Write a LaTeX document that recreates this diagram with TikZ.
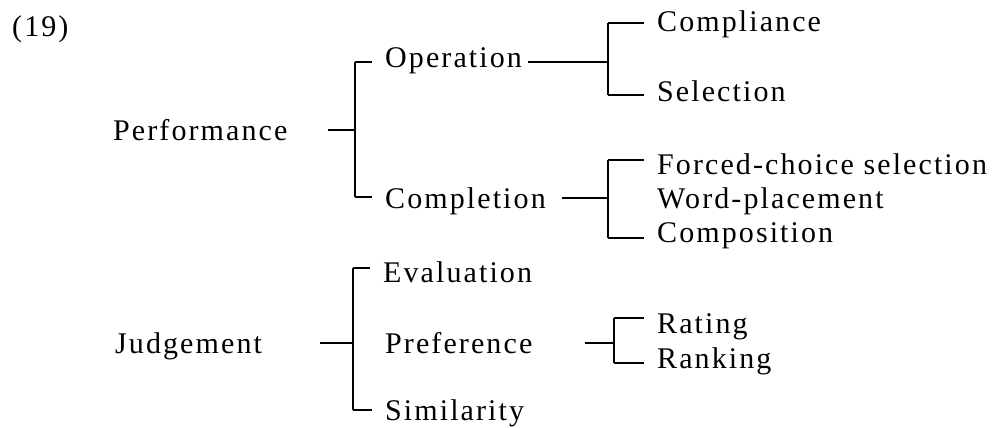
\documentclass[tikz,border=0pt]{standalone}
\usepackage{fontspec}
\setmainfont{Liberation Serif}[LetterSpace=7]
\begin{document}
\begin{tikzpicture}[x=1pt,y=-1pt,
  lbl/.style={anchor=base west, inner sep=0pt, font=\fontsize{30}{36}\selectfont},
  spine/.style={line width=1.8pt},
  stem/.style={line width=1.3pt},
  tick/.style={line width=1.1pt, shorten >=13pt}]
\useasboundingbox (0,0) rectangle (997,428);

% label of the example
\node[lbl] (num) at (12,37) {(19)};

% first level
\node[lbl] (perf) at (113,140) {Performance};
\node[lbl] (judg) at (115,353) {Judgement};

% second level
\node[lbl] (oper) at (385,68) {Operation};
\node[lbl] (comp) at (385,208) {Completion};
\node[lbl] (eval) at (383,282) {Evaluation};
\node[lbl] (pref) at (385,353) {Preference};
\node[lbl] (simi) at (385,420) {Similarity};

% third level
\node[lbl] (cpl) at (657,32) {Compliance};
\node[lbl] (sel) at (657,102) {Selection};
\node[lbl] (fcs) at (657,175) {Forced-choice selection};
\node[lbl] (wpl) at (657,208) {Word-placement};
\node[lbl] (cmp) at (657,242) {Composition};
\node[lbl] (rat) at (657,333) {Rating};
\node[lbl] (ran) at (657,368) {Ranking};

% Performance bracket
\coordinate (pT) at (355,62);
\coordinate (pM) at (355,130);
\coordinate (pB) at (355,197);
\draw[spine] (pT) -- (pB);
\draw[stem] (pM) -- ++(-27,0);
\draw[tick] (pT) -- (pT -| oper.west);
\draw[tick] (pB) -- (pB -| comp.west);

% Operation bracket
\coordinate (oT) at (608,23);
\coordinate (oM) at (608,62);
\coordinate (oB) at (608,95);
\draw[spine] (oT) -- (oB);
\draw[stem] (oM) -- ++(-80,0);
\draw[tick] (oT) -- (oT -| cpl.west);
\draw[tick] (oB) -- (oB -| sel.west);

% Completion bracket
\coordinate (cT) at (608,160);
\coordinate (cM) at (608,198);
\coordinate (cB) at (608,238);
\draw[spine] (cT) -- (cB);
\draw[stem] (cM) -- ++(-46,0);
\draw[tick] (cT) -- (cT -| fcs.west);
\draw[tick] (cB) -- (cB -| cmp.west);

% Judgement bracket
\coordinate (jT) at (353,268);
\coordinate (jM) at (353,343);
\coordinate (jB) at (353,410);
\draw[spine] (jT) -- (jB);
\draw[stem] (jM) -- ++(-33,0);
\draw[tick] (jT) -- (jT -| eval.west);
\draw[tick] (jB) -- (jB -| simi.west);

% Preference bracket
\coordinate (rT) at (614,318);
\coordinate (rM) at (614,343);
\coordinate (rB) at (614,363);
\draw[spine] (rT) -- (rB);
\draw[stem] (rM) -- ++(-29,0);
\draw[tick] (rT) -- (rT -| rat.west);
\draw[tick] (rB) -- (rB -| ran.west);
\end{tikzpicture}
\end{document}
